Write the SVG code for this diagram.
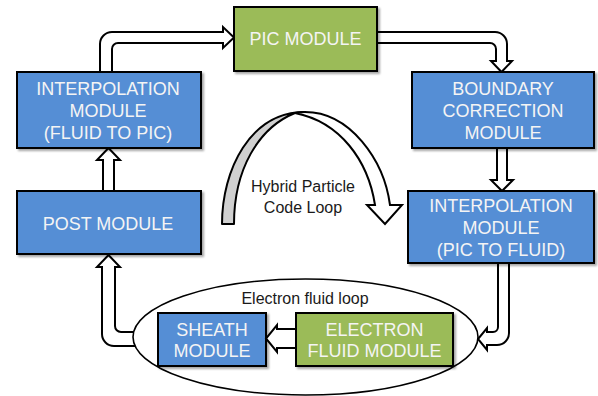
<svg xmlns="http://www.w3.org/2000/svg" width="598" height="396" viewBox="0 0 598 396">
  <defs>
    <filter id="shadow" x="-10%" y="-10%" width="130%" height="140%">
      <feDropShadow dx="2" dy="2" stdDeviation="1.2" flood-color="#000" flood-opacity="0.35"/>
    </filter>
  </defs>
  <style>
    .box { stroke: #000; stroke-width: 2; filter: url(#shadow); }
    .blue { fill: #558ED5; }
    .green { fill: #9BBB59; }
    .bt { font-family: "Liberation Sans", Arial, sans-serif; font-size: 18px; fill: #F4F4F4; text-anchor: middle; }
    .lbl { font-family: "Liberation Sans", Arial, sans-serif; font-size: 16px; fill: #1a1a1a; text-anchor: middle; }
    .arr { fill: #fff; stroke: #000; stroke-width: 2; stroke-linejoin: miter; }
  </style>

  <rect width="598" height="396" fill="#fff"/>

  <!-- connectors (block arrows) -->
  <g id="connectors">
    <!-- interpolation (fluid to PIC) -> PIC module -->
    <path class="arr" d="M100,72 L100,44 A12,12 0 0 1 112,32 L223,32 L223,27 L234,37.5 L223,48 L223,43 L118,43 A6,6 0 0 0 112,49 L112,72 Z"/>
    <!-- PIC module -> boundary correction -->
    <path class="arr" d="M377,32 L495,32 A12,12 0 0 1 507,44 L507,61 L512,61 L501.5,72 L491,61 L496,61 L496,49 A6,6 0 0 0 490,43 L377,43 Z"/>
    <!-- boundary correction -> interpolation (PIC to fluid) -->
    <path class="arr" d="M497,148 L497,180 L491,180 L502,191 L513,180 L507,180 L507,148 Z"/>
    <!-- interpolation (PIC to fluid) -> electron fluid loop -->
    <path class="arr" d="M498,263 L498,327 A5,5 0 0 1 493,332 L487,332 L487,328 L478,339 L487,350 L487,345 L497,345 A12,12 0 0 0 509,333 L509,263 Z"/>
    <!-- electron fluid loop -> post module -->
    <path class="arr" d="M136,332 L121,332 A6,6 0 0 1 115,326 L115,267 L120,267 L108.5,255 L97,267 L102,267 L102,334 A12,12 0 0 0 114,346 L136,346 Z"/>
    <!-- post module -> interpolation (fluid to PIC) -->
    <path class="arr" d="M103,191 L103,160 L97,160 L108.5,148 L120,160 L114,160 L114,191 Z"/>
  </g>

  <!-- electron fluid loop -->
  <g id="fluid-loop">
    <ellipse cx="305.5" cy="337" rx="172.5" ry="58" fill="#fff" stroke="#000" stroke-width="1.6"/>
    <text class="lbl" x="305" y="304">Electron fluid loop</text>
  </g>

  <!-- hybrid particle code loop: shaded back band and white front band with head -->
  <g id="hybrid-loop">
    <path d="M222,224 C222,170 250,112 305,112 C300,112 297,112.5 295,113 C258,128 234,170 234,224 Z" fill="#D0D0D0" stroke="#000" stroke-width="2" stroke-linejoin="round"/>
    <path class="arr" d="M305,112 C350,112 384,160 390,205 L402,205 L385,224 L367,205 L375,205 C368,160 340,122 295,113 C298,112.5 301,112 305,112 Z"/>
    <text class="lbl" x="303" y="192">Hybrid Particle</text>
    <text class="lbl" x="303" y="213">Code Loop</text>
  </g>

  <g id="pic-module">
    <rect class="box green" x="234" y="7" width="143" height="64"/>
    <text class="bt" x="305.5" y="45">PIC MODULE</text>
  </g>

  <g id="interp-fluid-to-pic">
    <rect class="box blue" x="17" y="72" width="184" height="76"/>
    <text class="bt" x="108" y="95">INTERPOLATION</text>
    <text class="bt" x="108" y="117">MODULE</text>
    <text class="bt" x="108" y="139">(FLUID TO PIC)</text>
  </g>

  <g id="post-module">
    <rect class="box blue" x="17" y="191" width="184" height="63"/>
    <text class="bt" x="108" y="230">POST MODULE</text>
  </g>

  <g id="boundary-correction">
    <rect class="box blue" x="412" y="72" width="182" height="76"/>
    <text class="bt" x="503" y="95">BOUNDARY</text>
    <text class="bt" x="503" y="117">CORRECTION</text>
    <text class="bt" x="503" y="139">MODULE</text>
  </g>

  <g id="interp-pic-to-fluid">
    <rect class="box blue" x="408" y="191" width="186" height="72"/>
    <text class="bt" x="501" y="212">INTERPOLATION</text>
    <text class="bt" x="501" y="234">MODULE</text>
    <text class="bt" x="501" y="256">(PIC TO FLUID)</text>
  </g>

  <g id="sheath-module">
    <rect class="box blue" x="158" y="313" width="108" height="53"/>
    <text class="bt" x="212" y="336">SHEATH</text>
    <text class="bt" x="212" y="357">MODULE</text>
  </g>

  <g id="electron-fluid-module">
    <rect class="box green" x="296" y="313" width="157" height="53"/>
    <text class="bt" x="374.5" y="336">ELECTRON</text>
    <text class="bt" x="374.5" y="357">FLUID MODULE</text>
  </g>

  <!-- electron fluid module -> sheath module -->
  <g id="loop-connector">
    <path class="arr" d="M296,329 L277,329 L277,325 L266,338.5 L277,352 L277,348 L296,348 Z"/>
  </g>
</svg>
